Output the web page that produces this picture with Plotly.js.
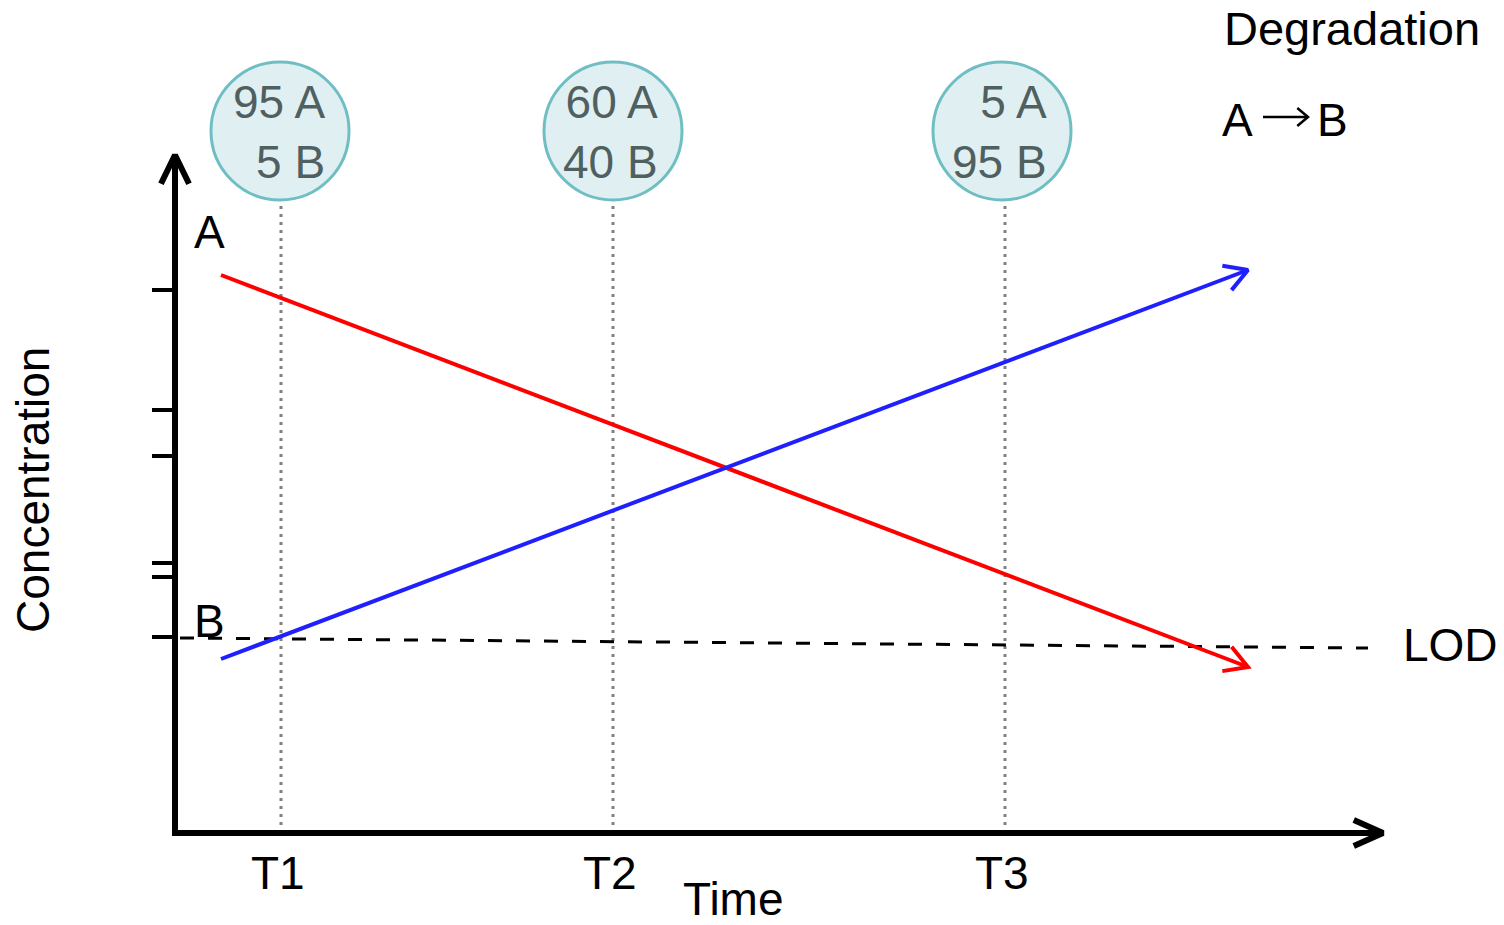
<!DOCTYPE html>
<html>
<head>
<meta charset="utf-8">
<script src="https://cdn.plot.ly/plotly-3.0.1.min.js"></script>
<style>html,body{margin:0;padding:0;background:#fff;}#chart{width:1504px;height:925px;}</style>
</head>
<body>
<div id="chart"></div>
<script>
// ---- data (time units / concentration units) ----
const timeLabels = ["T1", "T2", "T3"];
const timeX = [1.06, 4.38, 8.30];
const circleX = [1.05, 4.38, 8.27];
const circleY = 7.02;
const circleR = 0.69;
const compA = [95, 60, 5];
const compB = [5, 40, 95];

const lineA_x = [0.46, 10.73];
const lineA_y = [5.58, 1.66];
const lineB_x = [0.46, 10.73];
const lineB_y = [1.74, 5.63];

const lod_x = [0.05, 11.93];
const lod_y = [1.95, 1.85];

const yTicks = [5.43, 4.23, 3.77, 2.70, 2.56, 1.96];
const xAxisEnd = 12.08;
const yAxisEnd = 6.78;
const dottedTop = 6.33;

// reaction arrow in the "A → B" legend
const rxnArrow_x = [10.88, 11.33];
const rxnArrow_y = [7.16, 7.16];

const FONT = "Liberation Sans, Arial, sans-serif";
const FS = 46;

function arrowHead(tx, ty, fx, fy, len, halfDeg) {
  const ang = Math.atan2(fy - ty, fx - tx);
  const h = halfDeg * Math.PI / 180;
  return {
    x: [tx + len * Math.cos(ang + h), tx, tx + len * Math.cos(ang - h)],
    y: [ty + len * Math.sin(ang + h), ty, ty + len * Math.sin(ang - h)]
  };
}

const traces = [];
const shapes = [];
const annotations = [];

// vertical dotted lines at time points
timeX.forEach(x => {
  traces.push({x: [x, x], y: [0, dottedTop], mode: "lines",
    line: {color: "#808080", width: 3, dash: "3px,5px"}, hoverinfo: "skip"});
});

// LOD dashed
traces.push({x: lod_x, y: lod_y, mode: "lines",
  line: {color: "#000", width: 3, dash: "14px,14px"}, hoverinfo: "skip"});

// Red (A) line and arrow
traces.push({x: lineA_x, y: lineA_y, mode: "lines", line: {color: "#ff0000", width: 4}, hoverinfo: "skip"});
let ha = arrowHead(lineA_x[1], lineA_y[1], lineA_x[0], lineA_y[0], 0.26, 30);
traces.push({x: ha.x, y: ha.y, mode: "lines", line: {color: "#ff0000", width: 4}, hoverinfo: "skip"});

// Blue (B) line and arrow
traces.push({x: lineB_x, y: lineB_y, mode: "lines", line: {color: "#2020ff", width: 4}, hoverinfo: "skip"});
let hb = arrowHead(lineB_x[1], lineB_y[1], lineB_x[0], lineB_y[0], 0.26, 30);
traces.push({x: hb.x, y: hb.y, mode: "lines", line: {color: "#2020ff", width: 4}, hoverinfo: "skip"});

// axes
traces.push({x: [-0.03, xAxisEnd], y: [0, 0], mode: "lines", line: {color: "#000", width: 6}, hoverinfo: "skip"});
traces.push({x: [0, 0], y: [-0.03, yAxisEnd], mode: "lines", line: {color: "#000", width: 6}, hoverinfo: "skip"});
let hx = arrowHead(xAxisEnd, 0, 0, 0, 0.32, 24);
traces.push({x: hx.x, y: hx.y, mode: "lines", line: {color: "#000", width: 6}, hoverinfo: "skip"});
let hy = arrowHead(0, yAxisEnd, 0, 0, 0.32, 26);
traces.push({x: hy.x, y: hy.y, mode: "lines", line: {color: "#000", width: 6}, hoverinfo: "skip"});

// y ticks
yTicks.forEach(v => {
  traces.push({x: [-0.23, 0], y: [v, v], mode: "lines", line: {color: "#000", width: 4}, hoverinfo: "skip"});
});

// reaction arrow A -> B
traces.push({x: rxnArrow_x, y: rxnArrow_y, mode: "lines", line: {color: "#000", width: 2.5}, hoverinfo: "skip"});
let hr = arrowHead(rxnArrow_x[1], rxnArrow_y[1], rxnArrow_x[0], rxnArrow_y[0], 0.14, 40);
traces.push({x: hr.x, y: hr.y, mode: "lines", line: {color: "#000", width: 2.5}, hoverinfo: "skip"});

// circles
circleX.forEach((cx, i) => {
  shapes.push({type: "circle", xref: "x", yref: "y",
    x0: cx - circleR, x1: cx + circleR, y0: circleY - circleR, y1: circleY + circleR,
    fillcolor: "#e0f0f2", line: {color: "#6fbec3", width: 3}, layer: "above"});
  annotations.push({x: cx + 0.47, y: circleY - 0.01, xref: "x", yref: "y",
    text: compA[i] + " A<br>" + compB[i] + " B", showarrow: false,
    xanchor: "right", yanchor: "middle", align: "right",
    font: {family: FONT, size: FS, color: "#505f60"}});
});

// time labels
timeLabels.forEach((t, i) => {
  annotations.push({x: timeX[i] - 0.03, y: -0.40, text: t, showarrow: false,
    xanchor: "center", yanchor: "middle", font: {family: FONT, size: FS, color: "#000"}});
});

function txt(text, x, y, opts) {
  annotations.push(Object.assign({x: x, y: y, text: text, showarrow: false,
    xanchor: "center", yanchor: "middle", font: {family: FONT, size: FS, color: "#000"}}, opts || {}));
}
txt("Time", 5.58, -0.66);
txt("Concentration", -1.42, 3.43, {textangle: -90});
txt("A", 0.34, 6.01);
txt("B", 0.34, 2.12);
txt("LOD", 12.75, 1.88);
txt("Degradation", 11.77, 8.05, {font: {family: FONT, size: 47, color: "#000"}});
txt("A", 10.62, 7.13);
txt("B", 11.57, 7.13);

const layout = {
  width: 1504, height: 925,
  margin: {l: 0, r: 0, t: 0, b: 0},
  paper_bgcolor: "#fff", plot_bgcolor: "#fff",
  showlegend: false,
  xaxis: {range: [-1.75, 13.29], visible: false, fixedrange: true},
  yaxis: {range: [-0.92, 8.33], visible: false, fixedrange: true},
  shapes: shapes,
  annotations: annotations
};

Plotly.newPlot("chart", traces, layout, {staticPlot: true});
</script>
</body>
</html>
